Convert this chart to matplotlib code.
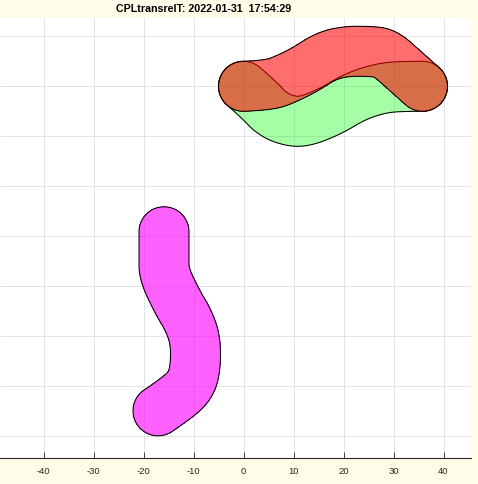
# Three swept-disc bodies (capsule outlines) in MATLAB-like style.
import numpy as np
import matplotlib; matplotlib.use("Agg"); import matplotlib.pyplot as plt
from matplotlib.bezier import BezierSegment

plt.rcParams["font.family"] = ["Liberation Sans", "DejaVu Sans"]
plt.rcParams["axes.unicode_minus"] = False

TITLE = "CPLtransrelT: 2022-01-31  17:54:29"
xticks = [-40, -30, -20, -10, 0, 10, 20, 30, 40]
yticks = [-70, -60, -50, -40, -30, -20, -10, 0, 10]
radius = 5.0   # half width of each body

# centerline control points of each body (data units)
green_x = [0, 3, 5.8, 9.4, 12.4, 17.4, 22.4, 27.4, 31.4, 35.8]
green_y = [0, -2.6, -5.6, -7, -7, -5, -2, -0.4, 0, 0]
red_x = [0, 5, 8.4, 12.4, 16.4, 20.4, 25.4, 28.4, 32.2, 35.8]
red_y = [0, 0.2, 1.4, 3.4, 6, 7, 7, 6.6, 3.2, 0]
mag_x = [-15.9, -15.9, -15.9, -13.3, -11.0, -9.6, -9.6, -10.4, -12.8, -17.1]
mag_y = [-29.1, -34.0, -37.5, -43.0, -46.8, -50.8, -56.0, -59.4, -62.0, -64.9]

bodies = [(green_x, green_y, (0, 1, 0), 0.35),
          (red_x, red_y, (1, 0, 0), 0.57),
          (mag_x, mag_y, (1, 0, 1), 0.62)]

def centerline(xs, ys, n=25):
    p = np.column_stack([xs, ys]).astype(float)
    t = np.linspace(0, 1, n)
    out = [p[:1]]; start = p[0]
    for i in range(1, len(p) - 1):
        end = p[-1] if i == len(p) - 2 else (p[i] + p[i + 1]) / 2
        out.append(BezierSegment(np.array([start, p[i], end]))(t[1:]))
        start = end
    return np.vstack(out)

def dist_field(line, step=0.08):
    x0, y0 = line.min(0) - radius - 1; x1, y1 = line.max(0) + radius + 1
    gx, gy = np.meshgrid(np.arange(x0, x1, step), np.arange(y0, y1, step))
    P = np.stack([gx.ravel(), gy.ravel()], 1); d = np.full(len(P), np.inf)
    for a, b in zip(line[:-1], line[1:]):
        v = b - a; L = v @ v
        tt = np.clip(((P - a) @ v) / L, 0, 1) if L > 0 else np.zeros(len(P))
        d = np.minimum(d, np.hypot(*(P - a - tt[:, None] * v).T))
    return gx, gy, d.reshape(gx.shape)

fig = plt.figure(figsize=(4.78, 4.85), dpi=100, facecolor="#fffde8")
ax = fig.add_axes([0, 26 / 485, 470.7 / 478, 440 / 485])
ax.set_facecolor("white")

for k, (xs, ys, col, a) in enumerate(bodies):
    gx, gy, d = dist_field(centerline(xs, ys))
    ax.contourf(gx, gy, d, levels=[-1, radius], colors=[col], alpha=a, zorder=2 + 2 * k)
    ax.contour(gx, gy, d, levels=[radius], colors="k", linewidths=0.75, zorder=3 + 2 * k)

ax.set_xlim(-48.7, 45.44); ax.set_ylim(-74.34, 13.66)
ax.set_xticks(xticks); ax.set_xticklabels([str(v) for v in xticks])
ax.set_yticks(yticks); ax.set_yticklabels([])
ax.tick_params(axis="x", direction="in", length=4, width=0.6, pad=6, labelsize=6.8, colors="#262626")
ax.tick_params(axis="y", length=0)
ax.grid(True, color="#dedede", linewidth=0.6); ax.set_axisbelow(True)
for s in ["left", "right", "top"]: ax.spines[s].set_visible(False)
ax.spines["bottom"].set_color("#262626"); ax.spines["bottom"].set_linewidth(0.8)

fig.text(204 / 478, 1 - 9 / 485, TITLE, ha="center", va="center", fontsize=7.7, fontweight="bold")
fig.savefig("out.png", dpi=100, facecolor=fig.get_facecolor())
